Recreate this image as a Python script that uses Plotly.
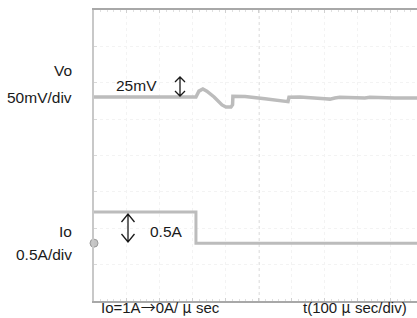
import plotly.graph_objects as go

# ---- data (time in microseconds, traces in screen divisions) ----
vo_t = [-500, -191, -182, -170, -158, -136, -112, -100, -85, -80, -79, -42, 18, 60, 88, 91, 124, 200, 215, 230, 245, 321, 336, 412, 479]
vo_div = [1.61, 1.61, 1.77, 1.83, 1.77, 1.61, 1.39, 1.33, 1.33, 1.40, 1.63, 1.62, 1.56, 1.52, 1.48, 1.60, 1.61, 1.56, 1.55, 1.58, 1.60, 1.58, 1.60, 1.58, 1.58]
io_t = [-500, -191, -191, 479]
io_div = [-1.55, -1.55, -2.41, -2.41]

ch_labels = ["Vo", "50mV/div", "Io", "0.5A/div"]
step_labels = ["25mV", "0.5A"]
bottom_labels = ["Io=1A→0A/ μ sec", "t(100 μ sec/div)"]

W, H = 417, 318
L, R, T, B = 94, 0, 10, 17
PW, PH = W - L - R, H - T - B

def px(x):
    return (x - L) / PW

def py(y):
    return (H - B - y) / PH

FONT = "Liberation Sans, Arial, sans-serif"
TRACE = "#bcbcbc"

def cjk(s):
    # arrow and micro sign are drawn from a full-width CJK font, as in the original
    out = ""
    for ch in s:
        if ch in "→μ":
            out += "<span style=\"font-family:'Noto Sans CJK JP'\">" + ch + "</span>"
        else:
            out += ch
    return out

fig = go.Figure()
fig.add_trace(go.Scatter(x=vo_t, y=vo_div, mode="lines",
                         line=dict(color=TRACE, width=3.5), hoverinfo="skip"))
fig.add_trace(go.Scatter(x=io_t, y=io_div, mode="lines",
                         line=dict(color=TRACE, width=3, shape="linear"), hoverinfo="skip"))
# ground marker of Io channel
fig.add_trace(go.Scatter(x=[io_t[0]], y=[io_div[-1]], mode="markers",
                         marker=dict(color="#c4c4c4", size=8, line=dict(color="#9a9a9a", width=1)),
                         cliponaxis=False, hoverinfo="skip"))

ann = []
def text(s, x, y, xanchor, size=15.5):
    ann.append(dict(text=s, x=px(x), y=py(y), xref="paper", yref="paper",
                    xanchor=xanchor, yanchor="middle", showarrow=False,
                    font=dict(family=FONT, size=size, color="#1a1a1a")))

text(ch_labels[0], 74, 70, "right")
text(ch_labels[1], 74, 97, "right")
text(ch_labels[2], 74, 231, "right")
text(ch_labels[3], 74, 254, "right")
text(step_labels[0], 114, 86, "left")
text(step_labels[1], 148, 231, "left")
text(cjk(bottom_labels[0]), 99, 306, "left", 15)
text(cjk(bottom_labels[1]), 301, 306, "left", 15)

shapes = []
def arrow(x, y0, y1, hw, hh):
    path = (f"M {px(x)} {py(y0)} L {px(x)} {py(y1)} "
            f"M {px(x-hw)} {py(y0+hh)} L {px(x)} {py(y0)} L {px(x+hw)} {py(y0+hh)} "
            f"M {px(x-hw)} {py(y1-hh)} L {px(x)} {py(y1)} L {px(x+hw)} {py(y1-hh)}")
    shapes.append(dict(type="path", path=path, xref="paper", yref="paper",
                       line=dict(color="#1a1a1a", width=1.3)))

arrow(180, 77, 96, 5, 5)
arrow(128, 214, 242, 6.5, 8)

# dotted centre lines
shapes.append(dict(type="line", x0=0, x1=0, y0=-4, y1=4, xref="x", yref="y",
                   line=dict(color="#d2d2d2", width=1.2, dash="dot"), layer="below"))
shapes.append(dict(type="line", x0=-500, x1=479, y0=0, y1=0, xref="x", yref="y",
                   line=dict(color="#dedede", width=1.2, dash="dot"), layer="below"))

fig.update_layout(
    width=W, height=H, margin=dict(l=L, r=R, t=T, b=B),
    paper_bgcolor="white", plot_bgcolor="white", showlegend=False,
    annotations=ann, shapes=shapes,
    xaxis=dict(range=[-500, 479], showticklabels=False, dtick=100, tick0=-500,
               showgrid=True, gridcolor="#f3f3f3", griddash="dot", gridwidth=1,
               zeroline=False, showline=True, linecolor="#a8a8a8", linewidth=2,
               mirror="ticks", ticks="inside", ticklen=3, tickcolor="#d0d0d0",
               minor=dict(dtick=20, ticks="inside", ticklen=2, tickcolor="#e0e0e0"),
               fixedrange=True),
    yaxis=dict(range=[-4, 4], showticklabels=False, dtick=1, tick0=-4,
               showgrid=True, gridcolor="#f3f3f3", griddash="dot", gridwidth=1,
               zeroline=False, showline=True, linecolor="#c8c8c8", linewidth=2,
               mirror=False, ticks="inside", ticklen=3, tickcolor="#d8d8d8",
               fixedrange=True),
)
fig.write_html("out.html", config={"displayModeBar": False},
               post_script="document.body.style.margin='0';document.body.style.overflow='hidden';")
